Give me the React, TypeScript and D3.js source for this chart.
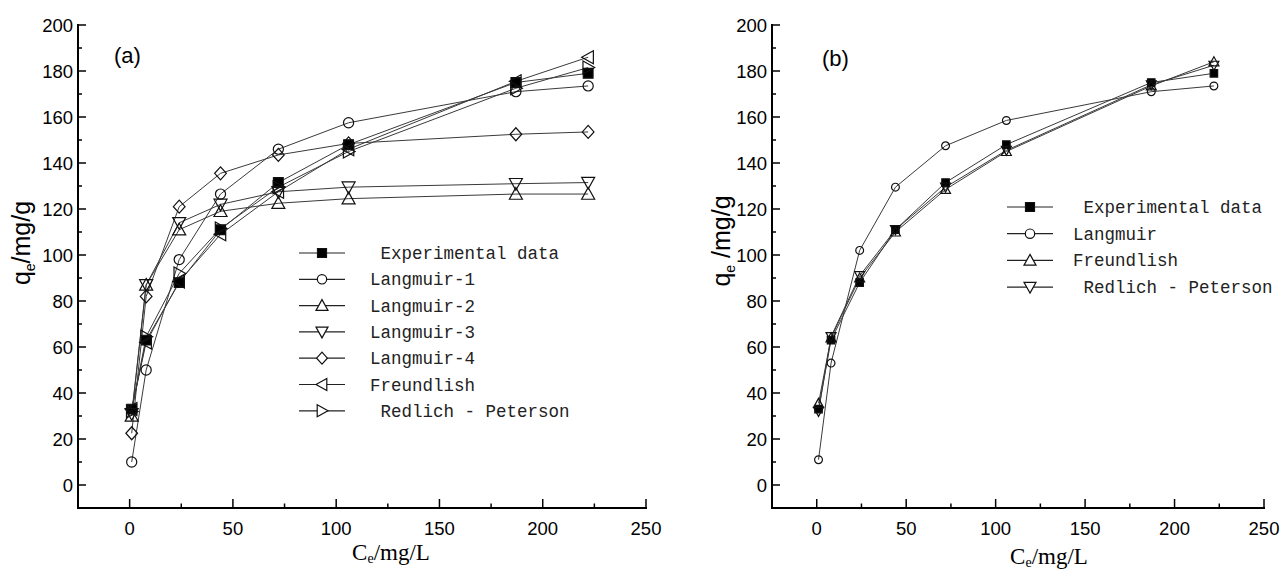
import React from "react";
import * as d3 from "d3";

// ---------- data ----------
const ce = [1, 8, 24, 44, 72, 106, 187, 222];
const expData = [33, 63, 88, 111, 131.5, 148, 175, 179];
const langmuir1 = [10, 50, 98, 126.5, 146, 157.5, 171, 173.5];
const langmuir2 = [30, 87, 111, 119, 122.5, 124.5, 126.5, 126.5];
const langmuir3 = [31, 87, 114, 122, 127.5, 129.5, 131, 131.5];
const langmuir4 = [22.5, 82, 121, 135.5, 143.5, 148.5, 152.5, 153.5];
const freundlichA = [33, 62, 88.5, 109, 127.5, 146, 175.5, 186];
const redlichA = [32, 64.5, 92, 111.5, 129.5, 145, 172.5, 181.5];
const langmuirB = [11, 53, 102, 129.5, 147.5, 158.5, 171, 173.5];
const freundlichB = [35.5, 64, 90, 110, 128.5, 145, 173.5, 184];
const redlichB = [32, 64.5, 91, 111, 129.5, 145.5, 174, 182.5];

const labelsA = [
  " Experimental data",
  "Langmuir-1",
  "Langmuir-2",
  "Langmuir-3",
  "Langmuir-4",
  "Freundlish",
  " Redlich - Peterson",
];
const labelsB = [" Experimental data", "Langmuir", "Freundlish", " Redlich - Peterson"];
const xTicks = [0, 50, 100, 150, 200, 250];
const yTicks = [0, 20, 40, 60, 80, 100, 120, 140, 160, 180, 200];

type Shape = "square" | "circle" | "up" | "down" | "diamond" | "left" | "right";

const seriesA: { values: number[]; shape: Shape; label: string }[] = [
  { values: expData, shape: "square", label: labelsA[0] },
  { values: langmuir1, shape: "circle", label: labelsA[1] },
  { values: langmuir2, shape: "up", label: labelsA[2] },
  { values: langmuir3, shape: "down", label: labelsA[3] },
  { values: langmuir4, shape: "diamond", label: labelsA[4] },
  { values: freundlichA, shape: "left", label: labelsA[5] },
  { values: redlichA, shape: "right", label: labelsA[6] },
];
const seriesB: { values: number[]; shape: Shape; label: string }[] = [
  { values: expData, shape: "square", label: labelsB[0] },
  { values: langmuirB, shape: "circle", label: labelsB[1] },
  { values: freundlichB, shape: "up", label: labelsB[2] },
  { values: redlichB, shape: "down", label: labelsB[3] },
];

function markerPath(shape: Shape, s: number): string {
  switch (shape) {
    case "square":
      return `M${-s * 0.75},${-s * 0.75}h${s * 1.5}v${s * 1.5}h${-s * 1.5}Z`;
    case "circle":
      return `M${s * 0.78},0A${s * 0.78},${s * 0.78} 0 1 1 ${-s * 0.78},0A${s * 0.78},${s * 0.78} 0 1 1 ${s * 0.78},0Z`;
    case "up":
      return `M0,${-s}L${s},${s * 0.8}L${-s},${s * 0.8}Z`;
    case "down":
      return `M0,${s}L${s},${-s * 0.8}L${-s},${-s * 0.8}Z`;
    case "left":
      return `M${-s},0L${s * 0.8},${-s}L${s * 0.8},${s}Z`;
    case "right":
      return `M${s},0L${-s * 0.8},${-s}L${-s * 0.8},${s}Z`;
    case "diamond":
      return `M0,${-s}L${s * 0.9},0L0,${s}L${-s * 0.9},0Z`;
  }
}

const LINE = "#3a3a3a";

function Panel(props: {
  x0: number;
  x1: number;
  series: { values: number[]; shape: Shape; label: string }[];
  tag: string;
  tagX: number;
  tagY: number;
  ms: number;
  legX: number;
  legY: number;
  legDy: number;
  textX: number;
  yLabelX: number;
  yLabelY: number;
  yLabelSpace: boolean;
  xLabelX: number;
  xLabelY: number;
}) {
  const x = d3.scaleLinear().domain([-25, 250]).range([props.x0, props.x1]);
  const y = d3.scaleLinear().domain([-10, 200]).range([508, 25]);
  const line = d3
    .line<number>()
    .x((_, i) => x(ce[i]))
    .y((d) => y(d));
  const xMinor = d3.range(25, 250, 50);
  const yMinor = d3.range(10, 200, 20);
  const axisY = y(-10);
  return (
    <g>
      {props.series.map((s, k) => (
        <path key={"l" + k} d={line(s.values) || ""} fill="none" stroke={LINE} strokeWidth={1} />
      ))}
      {props.series.map((s, k) => (
        <g key={"m" + k}>
          {s.values.map((v, i) => (
            <path
              key={i}
              transform={`translate(${x(ce[i])},${y(v)})`}
              d={markerPath(s.shape, props.ms)}
              fill={s.shape === "square" ? "#000" : "#fff"}
              fillOpacity={s.shape === "square" ? 1 : 0}
              stroke="#111"
              strokeWidth={1.2}
            />
          ))}
        </g>
      ))}
      <line x1={props.x0} x2={props.x0} y1={y(200) - 1} y2={axisY + 1} stroke="#000" strokeWidth={2} />
      <line x1={props.x0 - 1} x2={props.x1 + 1} y1={axisY} y2={axisY} stroke="#000" strokeWidth={2} />
      {yTicks.map((t) => (
        <g key={"yt" + t}>
          <line x1={props.x0} x2={props.x0 + 8} y1={y(t)} y2={y(t)} stroke="#000" strokeWidth={1.5} />
          <text
            x={props.x0 - 5}
            y={y(t) + 6.5}
            textAnchor="end"
            fontFamily="'Liberation Sans', Arial, sans-serif"
            fontSize={18.5}
          >
            {t}
          </text>
        </g>
      ))}
      {yMinor.map((t) => (
        <line key={"ym" + t} x1={props.x0} x2={props.x0 + 4} y1={y(t)} y2={y(t)} stroke="#000" strokeWidth={1.5} />
      ))}
      {xTicks.map((t) => (
        <g key={"xt" + t}>
          <line x1={x(t)} x2={x(t)} y1={axisY} y2={axisY - 9} stroke="#000" strokeWidth={1.5} />
          <text
            x={x(t)}
            y={axisY + 27}
            textAnchor="middle"
            fontFamily="'Liberation Sans', Arial, sans-serif"
            fontSize={18.5}
          >
            {t}
          </text>
        </g>
      ))}
      {xMinor.map((t) => (
        <line key={"xm" + t} x1={x(t)} x2={x(t)} y1={axisY} y2={axisY - 4.5} stroke="#000" strokeWidth={1.5} />
      ))}
      <text
        transform={`translate(${props.yLabelX},${props.yLabelY}) rotate(-90)`}
        textAnchor="middle"
        fontFamily="'Liberation Sans', Arial, sans-serif"
        fontSize={25}
      >
        q
        <tspan fontSize={14} dy={5}>
          e
        </tspan>
        <tspan dy={-5}>{props.yLabelSpace ? " /mg/g" : "/mg/g"}</tspan>
      </text>
      <text
        x={props.xLabelX}
        y={props.xLabelY}
        textAnchor="middle"
        fontFamily="'Liberation Serif', 'Times New Roman', serif"
        fontSize={23}
      >
        C
        <tspan fontSize={14} dy={3}>
          e
        </tspan>
        <tspan dy={-3}>/mg/L</tspan>
      </text>
      <text x={props.tagX} y={props.tagY} fontFamily="'Liberation Sans', Arial, sans-serif" fontSize={22}>
        {props.tag}
      </text>
      {props.series.map((s, k) => {
        const ly = props.legY + k * props.legDy;
        return (
          <g key={"lg" + k}>
            <line x1={props.legX} x2={props.legX + 46} y1={ly} y2={ly} stroke="#222" strokeWidth={1.2} />
            <path
              transform={`translate(${props.legX + 23},${ly})`}
              d={markerPath(s.shape, 6)}
              fill={s.shape === "square" ? "#000" : "#fff"}
              stroke="#111"
              strokeWidth={1.2}
            />
            <text
              x={props.textX}
              y={ly + 6}
              fontFamily="'Liberation Mono', 'DejaVu Sans Mono', monospace"
              fontSize={17.5}
              xmlSpace="preserve"
              style={{ whiteSpace: "pre" }}
              fill="#222"
            >
              {s.label}
            </text>
          </g>
        );
      })}
    </g>
  );
}

export default function App() {
  return (
    <svg
      width={1288}
      height={573}
      style={{ position: "absolute", left: 0, top: 0, background: "#fff" }}
    >
      <rect width={1288} height={573} fill="#fff" />
      <Panel
        x0={78}
        x1={646}
        series={seriesA}
        tag="(a)"
        tagX={114}
        tagY={63}
        ms={6.5}
        legX={299}
        legY={253}
        legDy={26.3}
        textX={370}
        yLabelX={30}
        yLabelY={243}
        yLabelSpace={false}
        xLabelX={391}
        xLabelY={560}
      />
      <Panel
        x0={772}
        x1={1264}
        series={seriesB}
        tag="(b)"
        tagX={822}
        tagY={66}
        ms={5}
        legX={1007}
        legY={207}
        legDy={26.7}
        textX={1073}
        yLabelX={730}
        yLabelY={241}
        yLabelSpace={true}
        xLabelX={1049}
        xLabelY={564}
      />
    </svg>
  );
}
